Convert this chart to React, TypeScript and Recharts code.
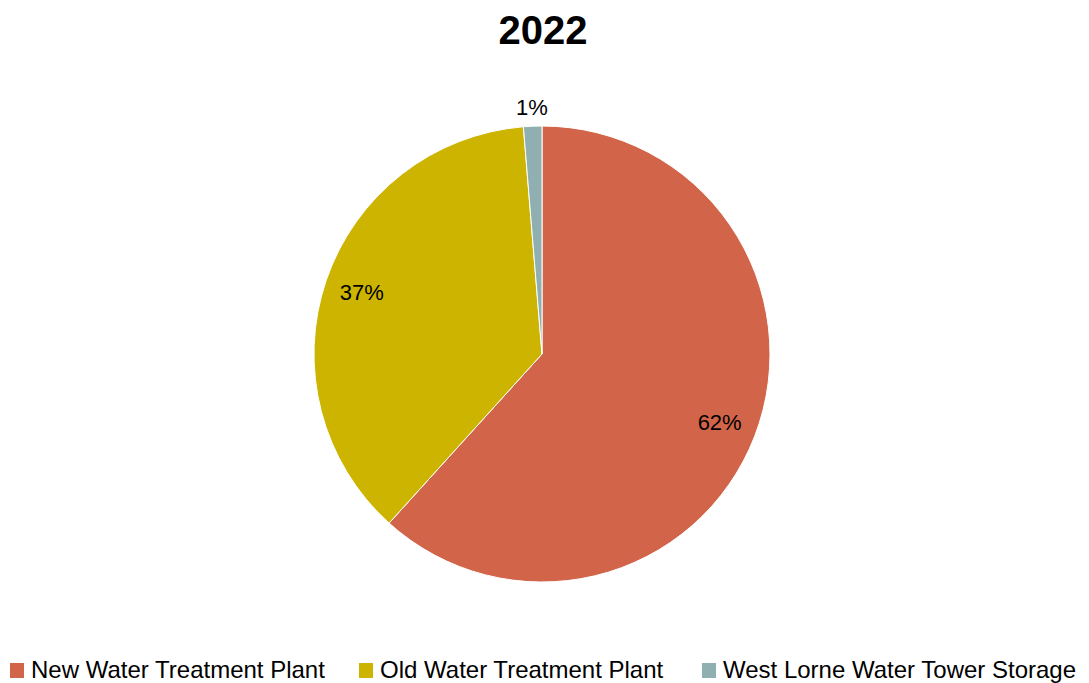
import React from 'react';
import { PieChart, Pie, Cell, Legend } from 'recharts';

const names = ['New Water Treatment Plant', 'Old Water Treatment Plant', 'West Lorne Water Tower Storage'];
const values = [61.7, 37.0, 1.3];
const labels = ['62%', '37%', '1%'];
const colors = ['#D2644A', '#CDB400', '#8FAFB0'];

const data = names.map((name, i) => ({ name, value: values[i], label: labels[i], color: colors[i] }));

const FONT = '"Liberation Sans", Arial, sans-serif';
const RAD = Math.PI / 180;

const renderLabel = (props: any) => {
  const { cx, cy, midAngle, outerRadius, index } = props;
  const small = values[index] < 5;
  const r = small ? outerRadius + 19 : outerRadius * 0.835;
  const x = cx + r * Math.cos(-midAngle * RAD);
  const y = cy + r * Math.sin(-midAngle * RAD);
  return (
    <text x={x} y={y} fill="#000" fontSize={22} fontFamily={FONT} textAnchor="middle" dominantBaseline="central">
      {labels[index]}
    </text>
  );
};

const itemWidths = [349, 343, 380];

const renderLegend = () => (
  <div style={{ display: 'flex', paddingLeft: 10, fontFamily: FONT, fontSize: 24, color: '#000' }}>
    {data.map((d, i) => (
      <div key={d.name} style={{ width: itemWidths[i], display: 'flex', alignItems: 'center', whiteSpace: 'nowrap' }}>
        <span style={{ width: 14, height: 15, background: d.color, display: 'inline-block', marginRight: 7 }} />
        <span>{d.name}</span>
      </div>
    ))}
  </div>
);

export default function App() {
  return (
    <div style={{ position: 'absolute', left: 0, top: 0, width: 1089, height: 683, background: '#fff' }}>
      <div
        style={{
          position: 'absolute',
          top: 8,
          left: 0,
          width: 1086,
          textAlign: 'center',
          fontFamily: FONT,
          fontWeight: 'bold',
          fontSize: 40,
          zIndex: 1,
        }}
      >
        2022
      </div>
      <PieChart width={1089} height={683} margin={{ top: 0, right: 0, bottom: 0, left: 0 }}>
        <Pie
          data={data}
          dataKey="value"
          nameKey="name"
          cx={542}
          cy={354}
          outerRadius={228}
          startAngle={90}
          endAngle={-270}
          stroke="#fff"
          strokeWidth={1}
          label={renderLabel}
          labelLine={false}
          isAnimationActive={false}
        >
          {data.map((d) => (
            <Cell key={d.name} fill={d.color} />
          ))}
        </Pie>
        <Legend content={renderLegend} wrapperStyle={{ left: 0, bottom: -1, width: 1089 }} />
      </PieChart>
    </div>
  );
}
